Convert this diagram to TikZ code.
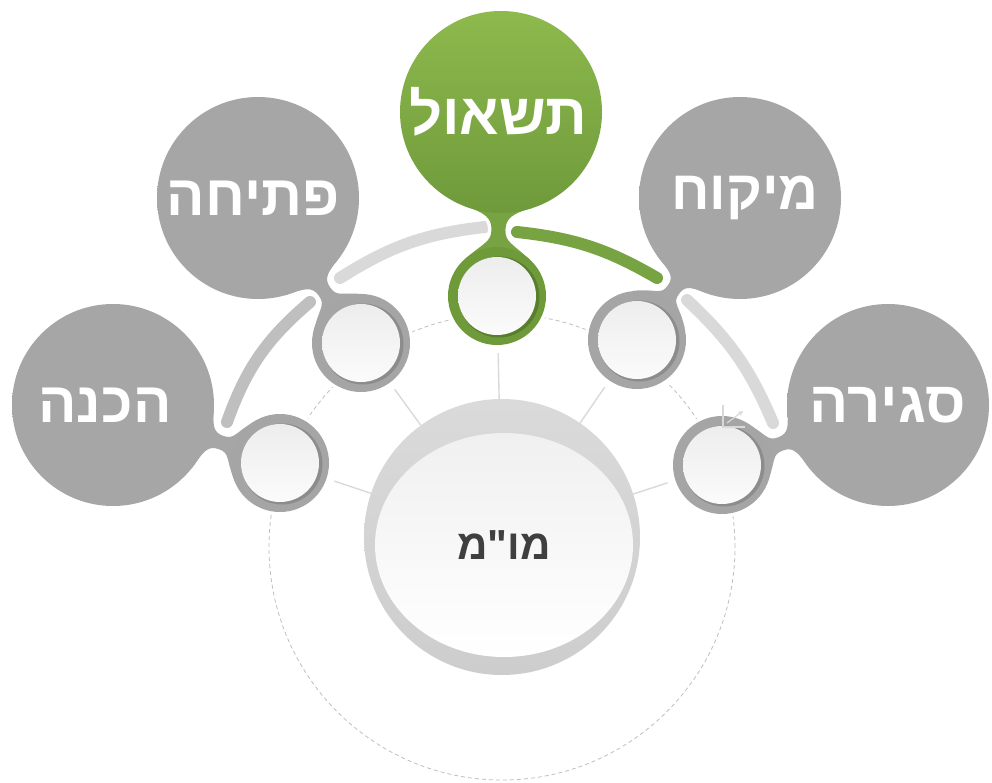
\documentclass[tikz,border=0pt]{standalone}
\usepackage{fontspec}
\usepackage{tikz}
\usetikzlibrary{shapes.geometric}
\newfontfamily\heb[Script=Hebrew]{Liberation Sans}
\TeXXeTstate=1

\definecolor{grayA}{HTML}{A6A6A6}
\definecolor{grayB}{HTML}{A6A6A6}
\definecolor{grayN}{HTML}{A6A6A6}
\definecolor{grayR}{HTML}{A5A5A5}
\definecolor{grayS}{HTML}{8C8C8C}
\definecolor{greenA}{HTML}{8DB94D}
\definecolor{greenB}{HTML}{6F9A3B}
\definecolor{greenN}{HTML}{78A342}
\definecolor{greenR}{HTML}{6E9A3A}
\definecolor{greenS}{HTML}{587D2C}
\definecolor{grayL}{HTML}{BFBFBF}
\definecolor{grayM}{HTML}{D9D9D9}
\definecolor{diskA}{HTML}{EDEDED}
\definecolor{diskB}{HTML}{FBFBFB}
\definecolor{midA}{HTML}{DADADA}
\definecolor{midB}{HTML}{CDCDCD}
\definecolor{faceA}{HTML}{F0F0F0}
\definecolor{midtext}{HTML}{3F3F3F}
\definecolor{dashgray}{HTML}{BFBFBF}
\definecolor{spokegray}{HTML}{D9D9D9}

\newcommand{\lblfont}[1]{\heb\bfseries\fontsize{#1}{#1}\selectfont}
% neck between a ball (at the origin) and its ring (at (0,#1))
\newcommand{\neckpath}[1]{(-34,95) .. controls (-14,101) and (-7,{(#1+52)/2-12}) .. (-7,{(#1+52)/2})
  .. controls (-7,{(#1+52)/2+12}) and (-14,{#1-53}) .. (-32,{#1-37}) -- (32,{#1-37})
  .. controls (14,{#1-53}) and (7,{(#1+52)/2+12}) .. (7,{(#1+52)/2})
  .. controls (7,{(#1+52)/2-12}) and (14,101) .. (34,95) -- cycle}

\begin{document}
\begin{tikzpicture}[x=1pt,y=-1pt,
  halo/.style={draw=white,line width=7pt},
  ball/.style={circle,minimum size=202pt,inner sep=0pt,shading angle=-35},
  ring/.style={circle,minimum size=98pt,inner sep=0pt},
  band/.style={line width=12pt,line cap=round},
  spoke/.style={draw=spokegray,line width=1.4pt,shorten >=8pt}]
  \useasboundingbox (0,0) rectangle (992,783);
  \draw[dashgray,line width=0.8pt,dash pattern=on 4pt off 3pt] (502,547) circle (233pt);
  % bands between the balls
  \draw[band,grayL] (227,422) to[bend left=15] (310,302);
  \draw[band,grayM] (340,278) to[bend left=13] (485,227);
  \draw[band,greenN] (517,232) to[bend left=12] (657,278);
  \draw[band,grayM] (687,300) to[bend left=12] (773,423);
  % balls, necks and rings
  \foreach \nm/\bx/\by/\rx/\ry/\rot/\d/\tone/\fs/\dx/\txt in {
      prep/113/405/280/463/70.85/177/gray/57/-8/הכנה,
      open/258/198/361/343/35.4/178/gray/57/-5/פתיחה,
      ask/501/112/497/296/-1.25/184/green/58/-3/תשאול,
      barg/740/198/637/340/-36/175/gray/55/5/מיקוח,
      close/888/405/722/465/-70.1/177/gray/58/0/סגירה}{
    \draw[halo] (\bx,\by) circle (101pt) (\rx,\ry) circle (49pt);
    \begin{scope}[shift={(\bx,\by)},rotate=\rot]
      \draw[halo] \neckpath{\d};
      \fill[\tone N] \neckpath{\d};
    \end{scope}
    \node[ball,top color=\tone A,bottom color=\tone B] (\nm) at (\bx,\by) {};
    \node[text=white,font=\lblfont{\fs}] (\nm-label) at (\bx+\dx,\by) {\beginR\txt\endR};
    \node[ring,fill=\tone R] (\nm-ring) at (\rx,\ry) {};
    \fill[\tone S] (\rx+2,\ry+1) circle (40.5pt);
    \shade[top color=diskA,bottom color=diskB] (\rx,\ry) circle (39pt);
  }
  % centre
  \node[circle,minimum size=276pt,inner sep=0pt,top color=midA,bottom color=midB] (mom) at (502,537) {};
  \node[ellipse,minimum width=258pt,minimum height=224pt,inner sep=0pt,top color=faceA,bottom color=white,
    text=midtext,font=\lblfont{42}] (mom-face) at (504,545) {\beginR מו"מ\endR};
  \foreach \r in {prep,open,ask,barg,close} \draw[spoke] (mom) -- (\r-ring);
  % small chart glyph
  \draw[spokegray,line width=1.2pt] (723,405) -- (723,427) -- (745,427);
  \draw[spokegray,line width=1.2pt,-stealth] (727,423) -- (743,411);
\end{tikzpicture}
\end{document}
